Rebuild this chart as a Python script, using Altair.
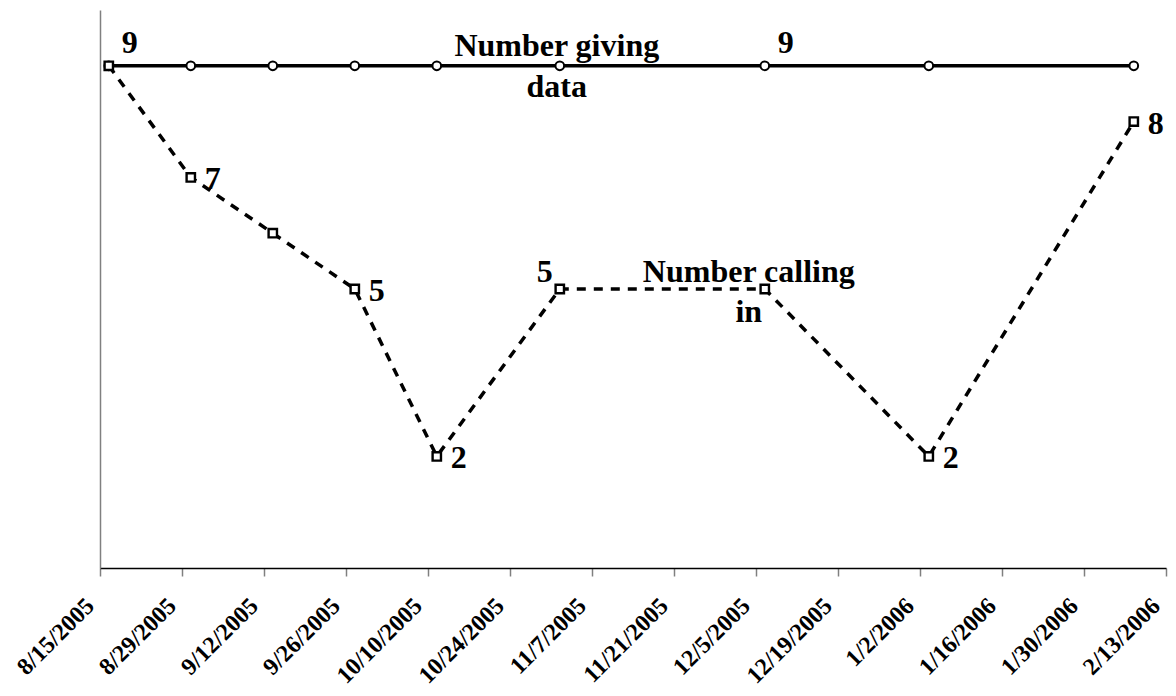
import altair as alt
import pandas as pd

# ---- data ----
point_dates = ["2005-08-16", "2005-08-30", "2005-09-13", "2005-09-27", "2005-10-11",
               "2005-11-01", "2005-12-06", "2006-01-03", "2006-02-07"]
giving = [9, 9, 9, 9, 9, 9, 9, 9, 9]
calling = [9, 7, 6, 5, 2, 5, 5, 2, 8]

giving_labels = ["", "", "", "", "", "", "9", "", ""]
giving_label_place = ["", "", "", "", "", "", "above-right", "", ""]
calling_labels = ["9", "7", "", "5", "2", "5", "", "2", "8"]
calling_label_place = ["above-right", "right", "", "right", "right", "above-left", "", "right", "right"]

giving_name = "Number giving\ndata"
giving_name_date = "2005-11-01"
calling_name = "Number calling\nin"
calling_name_date = "2005-12-06"

tick_dates = ["2005-08-15", "2005-08-29", "2005-09-12", "2005-09-26", "2005-10-10",
              "2005-10-24", "2005-11-07", "2005-11-21", "2005-12-05", "2005-12-19",
              "2006-01-02", "2006-01-16", "2006-01-30", "2006-02-13"]


def iso(d):
    return d + "T12:00:00Z"


def ms(d):
    return int(pd.Timestamp(d, tz="UTC").value // 10**6)


rows = []
for i, d in enumerate(point_dates):
    rows.append({"date": iso(d), "series": "giving", "value": giving[i],
                 "label": giving_labels[i], "place": giving_label_place[i]})
    rows.append({"date": iso(d), "series": "calling", "value": calling[i],
                 "label": calling_labels[i], "place": calling_label_place[i]})
df = pd.DataFrame(rows)

names = pd.DataFrame([
    {"date": iso(giving_name_date), "value": giving[point_dates.index(giving_name_date)],
     "name": giving_name.split("\n"), "who": "giving"},
    {"date": iso(calling_name_date), "value": calling[point_dates.index(calling_name_date)],
     "name": calling_name.split("\n"), "who": "calling"},
])

FONT = "Liberation Serif"

x_enc = alt.X("date:T",
              scale=alt.Scale(type="utc", domain=[ms(tick_dates[0]), ms(tick_dates[-1])]),
              axis=alt.Axis(values=[ms(t) for t in tick_dates],
                            labelExpr="utcFormat(datum.value, '%-m/%-d/%Y')",
                            title=None, grid=False,
                            labelAngle=315, labelAlign="right", labelBaseline="middle",
                            labelFont=FONT, labelFontWeight="bold", labelFontSize=24,
                            labelColor="black", labelPadding=26, labelOffset=-10,
                            labelOverlap=False, labelFlush=False,
                            domainColor="black", domainWidth=1.5,
                            tickColor="#808080", tickSize=8, tickWidth=1.5))
y_enc = alt.Y("value:Q", scale=alt.Scale(domain=[0, 10], nice=False, zero=True),
              axis=alt.Axis(title=None, labels=False, ticks=False, grid=False,
                            domainColor="#808080", domainWidth=1.5))

base = alt.Chart(df).encode(x=x_enc, y=y_enc)

giving_line = base.transform_filter(alt.datum.series == "giving").mark_line(
    color="black", strokeWidth=3.5)
calling_line = base.transform_filter(alt.datum.series == "calling").mark_line(
    color="black", strokeWidth=3.5, strokeDash=[9, 8], strokeCap="butt")
giving_pts = base.transform_filter(alt.datum.series == "giving").mark_point(
    shape="circle", filled=True, fill="white", stroke="black", strokeWidth=2,
    size=75, opacity=1)
calling_pts = base.transform_filter(alt.datum.series == "calling").mark_point(
    shape="square", filled=True, fill="white", stroke="black", strokeWidth=2.4,
    size=70, opacity=1)

offsets = {"right": (22, 2), "above-right": (21, -23), "above-left": (-15, -17)}
label_layers = []
for place, (ddx, ddy) in offsets.items():
    label_layers.append(
        base.transform_filter(alt.datum.place == place).mark_text(
            font=FONT, fontWeight="bold", fontSize=32, color="black",
            align="center", baseline="middle", dx=ddx, dy=ddy
        ).encode(text="label:N")
    )

name_base = alt.Chart(names).encode(
    x=alt.X("date:T"), y=alt.Y("value:Q"), text="name")
name_giving = name_base.transform_filter(alt.datum.who == "giving").mark_text(
    font=FONT, fontWeight="bold", fontSize=32, color="black",
    align="center", baseline="middle", lineHeight=41, dx=-3, dy=-20)
name_calling = name_base.transform_filter(alt.datum.who == "calling").mark_text(
    font=FONT, fontWeight="bold", fontSize=32, color="black",
    align="center", baseline="middle", lineHeight=40, dx=-16, dy=-17)

chart = alt.layer(
    giving_line, calling_line, giving_pts, calling_pts, *label_layers,
    name_giving, name_calling
).properties(
    width=1066, height=558,
    autosize=alt.AutoSizeParams(type="none"),
    padding={"left": 100, "top": 10, "right": 10, "bottom": 128},
    background="white",
).configure_view(stroke=None)

chart.save("out.html", embed_options={"renderer": "svg", "actions": False})
